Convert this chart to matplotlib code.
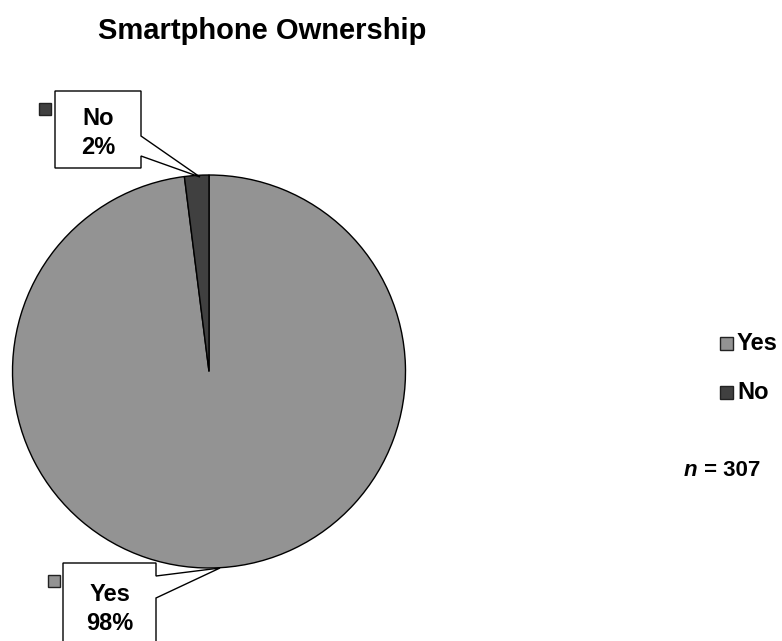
import matplotlib
matplotlib.use("Agg")
import matplotlib.pyplot as plt
from matplotlib.patches import Polygon, Rectangle

plt.rcParams['font.family'] = ['Liberation Sans', 'DejaVu Sans']

title = "Smartphone Ownership"
categories = ["Yes", "No"]
percentages = [98, 2]
colors = ["#939393", "#404040"]
sample_size = 307

W, H = 782, 641
fig = plt.figure(figsize=(W / 100, H / 100), dpi=100)
ax = fig.add_axes([0, 0, 1, 1])


def fy(py):
    return H - py


# pie
cx, cy, r = 209, 371.5, 196.5
ax.pie(percentages, colors=colors, startangle=90, counterclock=False,
       center=(cx, fy(cy)), radius=r, frame=True,
       wedgeprops=dict(edgecolor='black', linewidth=1.0))
ax.set_xlim(0, W)
ax.set_ylim(0, H)
ax.set_aspect('equal')
ax.axis('off')


# callout boxes
def callout(box, tail, tip, text, text_y, swatch, color):
    x0, y0, x1, y1 = box
    t0, t1 = tail
    pts = [(x0, y0), (x1, y0), (x1, t0), tip, (x1, t1), (x1, y1), (x0, y1)]
    poly = Polygon([(x, fy(y)) for x, y in pts], closed=True, facecolor='white',
                   edgecolor='black', linewidth=1.0, zorder=5, clip_on=False)
    ax.add_patch(poly)
    ax.text((x0 + x1) / 2, fy(text_y), text, ha='center', va='center', fontsize=17,
            fontweight='bold', linespacing=1.3, zorder=6)
    sx, sy, s = swatch
    ax.add_patch(Rectangle((sx, fy(sy + s)), s, s, facecolor=color,
                           edgecolor='#222222', linewidth=1.0, zorder=6))


callout((55, 91, 141, 168), (136, 156), (200, 177),
        f"{categories[1]}\n{percentages[1]}%", 133, (38.5, 102.5, 12.5), colors[1])
callout((63, 563, 156, 700), (576, 598), (220, 568),
        f"{categories[0]}\n{percentages[0]}%", 609, (47.5, 574.5, 12.5), colors[0])

# title
ax.text(262, fy(31), title, ha='center', va='center', fontsize=21, fontweight='bold')

# legend
for i, (cat, col) in enumerate(zip(categories, colors)):
    yy = 343.5 + i * 49
    ax.add_patch(Rectangle((719.5, fy(yy + 6.5)), 13, 13, facecolor=col,
                           edgecolor='#222222', linewidth=1.0))
    ax.text(737, fy(yy), cat, ha='left', va='center', fontsize=17, fontweight='bold')

# sample size note: italic "n" followed by the count
rest = ax.text(760, fy(470), f" = {sample_size}", ha='right', va='center',
               fontsize=16, fontweight='bold')
fig.canvas.draw()
bb = rest.get_window_extent()
x_left = ax.transData.inverted().transform((bb.x0, bb.y0))[0]
ax.text(x_left, fy(470), "n", ha='right', va='center', fontsize=16,
        fontweight='bold', fontstyle='italic')

fig.savefig("out.png", dpi=100)
